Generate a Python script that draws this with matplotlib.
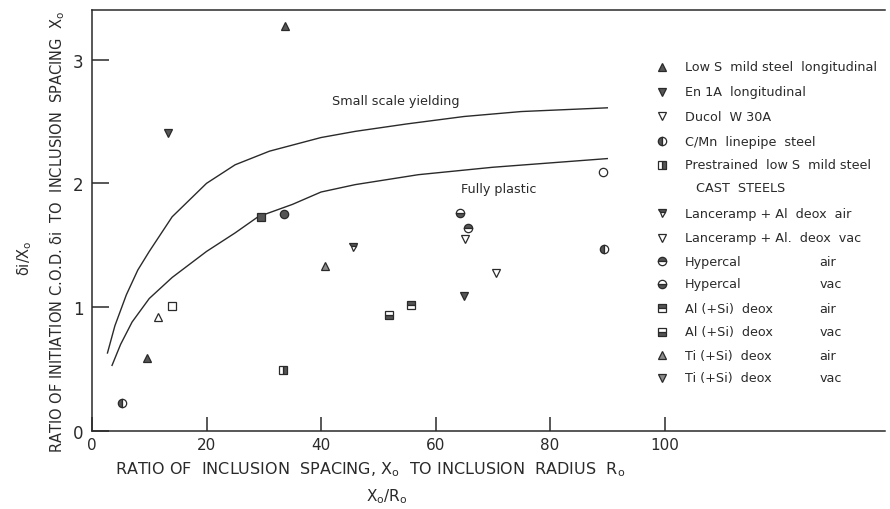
import matplotlib
matplotlib.use("Agg")
import matplotlib.pyplot as plt

# curves
ssy_x = [2.7, 4, 6, 8, 10, 14, 20, 25, 31, 40, 46, 55, 65, 75, 90]
ssy_y = [0.63, 0.85, 1.1, 1.3, 1.45, 1.73, 2.0, 2.15, 2.26, 2.37, 2.42, 2.48, 2.54, 2.58, 2.61]
fp_x = [3.5, 5, 7, 10, 14, 20, 25, 29, 35, 40, 46, 57, 70, 90]
fp_y = [0.53, 0.7, 0.88, 1.07, 1.24, 1.45, 1.6, 1.73, 1.83, 1.93, 1.99, 2.07, 2.13, 2.2]

# data points
lows_x, lows_y = [33.7, 9.6], [3.27, 0.59]
en1a_x, en1a_y = [13.2, 64.9], [2.41, 1.09]
ducol_x, ducol_y = [65.2], [1.55]
cmn_x, cmn_y = [5.2, 89.4], [0.23, 1.47]
prest_x, prest_y = [33.4], [0.49]
lance_air_x, lance_air_y = [45.6], [1.49]
lance_vac_x, lance_vac_y = [70.6], [1.28]
hyp_air_x, hyp_air_y = [65.6], [1.64]
hyp_vac_x, hyp_vac_y = [64.2], [1.76]
al_air_x, al_air_y = [55.8], [1.02]
al_vac_x, al_vac_y = [51.8], [0.94]
ti_air_x, ti_air_y = [40.7], [1.33]
ti_vac_x, ti_vac_y = [], []
# points with no legend entry
open_sq_x, open_sq_y = [13.9], [1.01]
open_tri_x, open_tri_y = [11.5], [0.92]
open_circ_x, open_circ_y = [89.2], [2.09]
full_sq_x, full_sq_y = [29.6], [1.73]
full_circ_x, full_circ_y = [33.6], [1.75]

ink = "#2a2a2a"
grey = "#555555"
light = "#8a8a8a"

# label, x, y, marker, fillstyle, face, air/vac
series = [
    ("Low S  mild steel  longitudinal", lows_x, lows_y, "^", "full", grey, ""),
    ("En 1A  longitudinal", en1a_x, en1a_y, "v", "full", grey, ""),
    ("Ducol  W 30A", ducol_x, ducol_y, "v", "none", "none", ""),
    ("C/Mn  linepipe  steel", cmn_x, cmn_y, "o", "left", grey, ""),
    ("Prestrained  low S  mild steel", prest_x, prest_y, "s", "right", grey, ""),
    (None, [], [], None, None, None, None),
    ("Lanceramp + Al  deox  air", lance_air_x, lance_air_y, "v", "top", grey, ""),
    ("Lanceramp + Al.  deox  vac", lance_vac_x, lance_vac_y, "v", "none", "none", ""),
    ("Hypercal", hyp_air_x, hyp_air_y, "o", "top", grey, "air"),
    ("Hypercal", hyp_vac_x, hyp_vac_y, "o", "bottom", grey, "vac"),
    ("Al (+Si)  deox", al_air_x, al_air_y, "s", "top", grey, "air"),
    ("Al (+Si)  deox", al_vac_x, al_vac_y, "s", "bottom", grey, "vac"),
    ("Ti (+Si)  deox", ti_air_x, ti_air_y, "^", "full", light, "air"),
    ("Ti (+Si)  deox", ti_vac_x, ti_vac_y, "v", "full", light, "vac"),
]

legend_y = [2.94, 2.74, 2.54, 2.34, 2.15, 1.97, 1.76, 1.56, 1.37, 1.19, 0.99, 0.80, 0.61, 0.43]

plt.rcParams["font.family"] = ["DejaVu Sans"]
fig = plt.figure(figsize=(8.9, 5.1), dpi=100)
ax = fig.add_axes([92 / 890, 78 / 510, 793 / 890, 421 / 510])
ax.set_xlim(0, 138.5)
ax.set_ylim(0, 3.4)

ax.plot(ssy_x, ssy_y, color=ink, lw=1.0)
ax.plot(fp_x, fp_y, color=ink, lw=1.0)
ax.text(42.0, 2.67, "Small scale yielding", fontsize=9.2, color=ink, va="center")
ax.text(64.4, 1.96, "Fully plastic", fontsize=9.2, color=ink, va="center")

ms = 6
for (lab, xs, ys, mk, fs, fc, cond), ly in zip(series, legend_y):
    if lab is None:
        ax.text(105.5, ly, "CAST  STEELS", fontsize=9.2, color=ink, va="center")
        continue
    kw = dict(marker=mk, fillstyle=fs, markerfacecolor=fc, markerfacecoloralt="white",
              markeredgecolor=ink, markersize=ms, markeredgewidth=0.9, ls="none")
    ax.plot(xs, ys, **kw)
    ax.plot([99.5], [ly], clip_on=False, **kw)
    ax.text(103.5, ly, lab, fontsize=9.2, color=ink, va="center")
    if cond:
        ax.text(127.0, ly, cond, fontsize=9.2, color=ink, va="center")

extra = [(open_sq_x, open_sq_y, "s", "none"), (open_tri_x, open_tri_y, "^", "none"),
         (open_circ_x, open_circ_y, "o", "none"), (full_sq_x, full_sq_y, "s", grey),
         (full_circ_x, full_circ_y, "o", grey)]
for xs, ys, mk, fc in extra:
    ax.plot(xs, ys, marker=mk, ls="none", markerfacecolor=fc, markeredgecolor=ink,
            markersize=ms, markeredgewidth=0.9)

ax.set_xticks([0, 20, 40, 60, 80, 100])
ax.set_yticks([0, 1, 2, 3])
ax.tick_params(axis="x", direction="in", length=10, width=1.1, labelsize=11, pad=4, colors=ink)
ax.tick_params(axis="y", direction="in", length=12, width=1.1, labelsize=12, pad=6, colors=ink)
for s in ["left", "bottom", "top"]:
    ax.spines[s].set_linewidth(1.1)
    ax.spines[s].set_color(ink)
ax.spines["right"].set_visible(False)

fig.text(370 / 890, 1 - 470 / 510, r"RATIO OF  INCLUSION  SPACING, X$_{\rm o}$  TO INCLUSION  RADIUS  R$_{\rm o}$",
         fontsize=11.5, color=ink, va="center", ha="center")
fig.text(387 / 890, 1 - 497 / 510, r"X$_{\rm o}$/R$_{\rm o}$", fontsize=11, color=ink, va="center", ha="center")
fig.text(58 / 890, 1 - 232 / 510, r"RATIO OF INITIATION C.O.D. δi  TO  INCLUSION  SPACING  X$_{\rm o}$",
         fontsize=10.5, color=ink, rotation=90, va="center", ha="center")
fig.text(25 / 890, 1 - 258 / 510, r"δi/X$_{\rm o}$", fontsize=10.5, color=ink, rotation=90, va="center", ha="center")

fig.savefig("out.png", dpi=100)
